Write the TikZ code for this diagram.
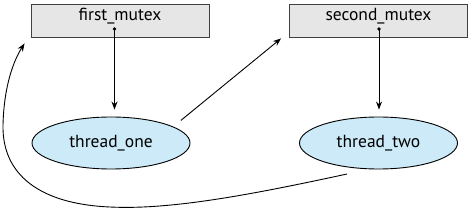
\documentclass[tikz,border=0pt]{standalone}
\usepackage{fontspec}
\setmainfont{PT Sans}
\usepackage{xcolor}
\definecolor{boxgray}{HTML}{E6E6E6}
\definecolor{threadblue}{HTML}{CCEAF8}
\usepackage{tikz}
\usetikzlibrary{arrows.meta,shapes.geometric}

\tikzset{
  mutexbox/.style={draw=black!75, fill=boxgray, minimum width=178pt, minimum height=33pt,
    text height=12pt, text depth=11pt, inner ysep=5pt, line width=0.9pt},
  threadnode/.style={ellipse, draw, fill=threadblue, minimum width=158pt, minimum height=52pt,
    inner sep=0pt, line width=0.9pt},
  lockdot/.style={fill=black},
}

\begin{document}
\begin{tikzpicture}[x=1pt, y=-1pt, >={Stealth[length=8pt,width=6pt]}, font=\fontsize{17.5}{20}\selectfont,
  line width=0.9pt]
  \useasboundingbox (0,0) rectangle (468,208);

  \node[mutexbox] (firstmutex) at (120,20.5) {first\_mutex};
  \node[mutexbox] (secondmutex) at (378.5,20.5) {second\_mutex};
  \node[threadnode] (threadone) at (111,143) {thread\_one};
  \node[threadnode] (threadtwo) at (378.5,143) {thread\_two};

  \coordinate (firstdot) at (114.5,29);
  \coordinate (seconddot) at (379,29);
  \fill[lockdot] (firstdot) circle (1.8pt);
  \fill[lockdot] (seconddot) circle (1.8pt);

  \draw[->, shorten >=7pt] (firstdot) -- (firstdot |- threadone.north);
  \draw[->, shorten >=7pt] (seconddot) -- (seconddot |- threadtwo.north);

  \draw[->] ([shift={(8,-6)}]threadone.15) -- ([shift={(-8,1)}]secondmutex.south west);

  \coordinate (backstart) at (347,174);
  \draw[->] (backstart) .. controls (250,195) and (170,210) .. (110,207)
    .. controls (40,204) and (2,175) .. (3,125)
    .. controls (4,85) and (14,60) .. ([shift={(-6,6)}]firstmutex.south west);

\end{tikzpicture}
\end{document}
